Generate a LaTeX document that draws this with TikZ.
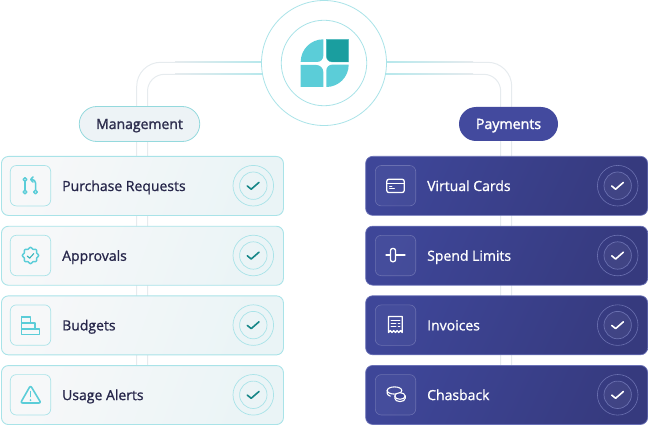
\documentclass[tikz,border=0pt]{standalone}
\usepackage{fontspec}
\setmainfont{Open Sans}[FakeBold=1]
\newfontfamily\pillfont{Open Sans}[FakeBold=1.8]
\usetikzlibrary{calc}
\definecolor{ink}{HTML}{26264A}
\definecolor{cyanl}{HTML}{5BCDD8}
\definecolor{teald}{HTML}{1A9E9F}
\definecolor{bordl}{HTML}{A9E3E8}
\definecolor{railg}{HTML}{E6EBEE}
\definecolor{railc}{HTML}{B5E8EC}
\definecolor{navya}{HTML}{3E4698}
\definecolor{navyb}{HTML}{363A7E}
\definecolor{navyl}{HTML}{7D84C4}
\definecolor{glass}{HTML}{6A70B0}
\definecolor{paya}{HTML}{434A9E}
\definecolor{liga}{HTML}{F7F8F9}
\definecolor{ligb}{HTML}{F5F7F8}
\definecolor{ligc}{HTML}{EAF4F6}
\definecolor{pillg}{HTML}{EDF3F6}
\tikzset{
  cardbase/.style={rectangle,rounded corners=7pt,minimum width=282pt,minimum height=59pt,inner sep=0pt,anchor=north west},
  lightcard/.style={cardbase,draw=bordl,line width=.9pt,left color=liga,middle color=ligb,right color=ligc,shading angle=70},
  darkcard/.style={cardbase,draw=navyl!70!navya,line width=.7pt,left color=navya,middle color=navya,right color=navyb,shading angle=65},
  iconboxl/.style={rectangle,rounded corners=6pt,minimum size=40.4pt,inner sep=0pt,draw=bordl,line width=.7pt},
  iconboxd/.style={rectangle,rounded corners=6pt,minimum size=40.4pt,inner sep=0pt,draw=glass,line width=.6pt,fill=white,fill opacity=.04},
  lbl/.style={anchor=base west,inner sep=0pt,font=\fontsize{14}{16}\selectfont},
  icl/.style={draw=cyanl,line width=1.5pt,line cap=round,line join=round},
  icd/.style={draw=white,line width=1.3pt,line cap=round,line join=round},
  rail/.style={draw=railg,line width=1pt},
  tickl/.style={draw=teald!85!black,line width=1.6pt,line cap=round,line join=round},
  tickd/.style={draw=white,line width=1.6pt,line cap=round,line join=round},
  pilltext/.style={inner sep=0pt,text height=10pt,text depth=0pt},
}
\newcommand{\lcard}[3]{% name, top y, text
  \node[lightcard] (#1) at (1,#2) {};
  \node[iconboxl] (#1i) at (30.5,#2+29.7) {};
  \node[lbl,text=ink] (#1t) at (62,#2+35) {#3};
  \node[circle,draw=bordl,line width=.7pt,minimum size=40.6pt,inner sep=0pt] (#1o) at (253.3,#2+29.7) {};
  \node[circle,draw=bordl,line width=.7pt,minimum size=27.4pt,inner sep=0pt] (#1c) at (253.3,#2+29.7) {};
  \draw[tickl] ($(#1c)+(-6,.3)$) -- ++(3.9,3.2) -- ++(7.8,-6.8);
}
\newcommand{\dcard}[3]{%
  \node[darkcard] (#1) at (365.3,#2) {};
  \node[iconboxd] (#1i) at (395.5,#2+29.7) {};
  \node[lbl,text=white] (#1t) at (427,#2+35) {#3};
  \node[circle,draw=glass,line width=.6pt,minimum size=40.6pt,inner sep=0pt] (#1o) at (617.7,#2+29.7) {};
  \node[circle,draw=glass,line width=.7pt,fill=white,fill opacity=.05,minimum size=27.4pt,inner sep=0pt] (#1c) at (617.7,#2+29.7) {};
  \draw[tickd] ($(#1c)+(-6,.3)$) -- ++(3.9,3.2) -- ++(7.8,-6.8);
}
\begin{document}
\begin{tikzpicture}[x=1pt,y=-1pt]
\useasboundingbox (0,0) rectangle (648,425);
% hub
\node[circle,minimum size=125pt,inner sep=0pt] (hub) at (324,63) {};
\coordinate (lo) at (136.7,365); \coordinate (li) at (147.5,365);
\coordinate (ro) at (511.7,365); \coordinate (ri) at (500.7,365);
% rails
\draw[rail,rounded corners=24pt] (lo) |- ($(hub.west)+(0,-.7)$);
\draw[rail,rounded corners=17pt] (li) |- ($(hub.west)+(3,11.3)$);
\draw[rail,rounded corners=24pt] (ro) |- ($(hub.east)+(0,-.7)$);
\draw[rail,rounded corners=17pt] (ri) |- ($(hub.east)+(-3,11.3)$);
% cyan tint near the hub
\shade[left color=railg,right color=railc] (175,61.8) rectangle (264,62.8);
\shade[left color=railg,right color=railc] (175,73.8) rectangle (266,74.8);
\shade[right color=railg,left color=railc] (384,61.8) rectangle (473,62.8);
\shade[right color=railg,left color=railc] (382,73.8) rectangle (473,74.8);
% hub rings
\node[circle,draw=bordl,line width=.8pt,fill=white,minimum size=125pt,inner sep=0pt] (ring) at (324,63) {};
\node[circle,draw=bordl,line width=.8pt,minimum size=85.5pt,inner sep=0pt] (ringb) at (324,63) {};
% logo
\fill[cyanl] (323.3,39.3) arc[start angle=270,end angle=180,radius=22.6] -- (317.3,61.9) arc[start angle=90,end angle=0,radius=6] -- cycle;
\fill[teald] (326.3,39.3) -- (348.7,39.3) -- (348.7,62) -- (332.3,62) arc[start angle=90,end angle=180,radius=6] -- cycle;
\draw[cyanl!60!teald,line width=.4pt] (326.3,39.3) -- (348.7,39.3) -- (348.7,62) -- (332.3,62) arc[start angle=90,end angle=180,radius=6] -- cycle;
\fill[cyanl] (300.7,65) -- (316.3,65) arc[start angle=270,end angle=360,radius=7] -- (323.3,87) -- (300.7,87) -- cycle;
\fill[cyanl] (326.3,87) arc[start angle=90,end angle=0,radius=22.4] -- (332.3,64.6) arc[start angle=270,end angle=180,radius=6] -- cycle;
% pills
\node[rectangle,rounded corners=17.5pt,draw=bordl!85!teald,line width=.8pt,fill=pillg,minimum width=120.5pt,minimum height=35pt,pilltext,font=\pillfont\fontsize{14}{16}\selectfont,text=ink!90!gray] (mgmt) at (139.5,124) {Management};
\node[rectangle,rounded corners=17pt,fill=paya,minimum width=99pt,minimum height=34pt,pilltext,font=\pillfont\fontsize{14.2}{16}\selectfont,text=white] (pay) at (508.5,124) {Payments};
% cards
\lcard{a}{156}{Purchase Requests}
\lcard{b}{225.8}{Approvals}
\lcard{c}{295.4}{Budgets}
\lcard{d}{365.1}{Usage Alerts}
\dcard{e}{156}{Virtual Cards}
\dcard{f}{225.8}{Spend Limits}
\dcard{g}{295.4}{Invoices}
\dcard{h}{365.1}{Chasback}
% icon: purchase requests
\draw[icl] (25,179.5) circle[radius=1.9] (25,192) circle[radius=1.9] (35.5,192) circle[radius=1.9];
\draw[icl] (25,181.5) -- (25,190);
\draw[icl] (35.5,190) -- (35.5,183) arc[start angle=0,end angle=-90,radius=3.5] -- (31,179.5);
\draw[icl] (33,177) -- (30.6,179.5) -- (33,182);
% icon: approvals
\draw[icl] plot[domain=0:360,samples=65,smooth] ({30.5+(7.4+.7*cos(8*\x))*cos(\x)},{255.5+(7.4+.7*cos(8*\x))*sin(\x)}) -- cycle;
\draw[draw=teald!50!cyanl,line width=1.1pt,line cap=round,line join=round] (27.2,256) -- (29.6,258.2) -- (33.8,253.6);
% icon: budgets
\draw[icl,line width=1.6pt,line cap=butt] (21.5,315.5) -- (21.5,334.5) -- (39.5,334.5) -- (39.5,329) -- (21.5,329) (21.5,323) -- (35,323) -- (35,329) (21.5,317) -- (30.5,317) -- (30.5,323);
% icon: alerts
\draw[icl,line width=1.6pt,rounded corners=2pt] (30.5,385.5) -- (41,403) -- (20.5,403) -- cycle;
\draw[icl] (30.5,391.5) -- (30.5,396.5);
\fill[cyanl] (30.5,400) circle[radius=1];
% icon: card
\draw[icd,rounded corners=2pt] (386.8,179.3) rectangle (404.2,192.5);
\draw[icd] (386.8,183.5) -- (404.2,183.5);
\draw[icd,line width=.9pt] (389.5,188.5) -- (394.5,188.5) (389.5,186.5) -- (392,186.5);
% icon: limits
\draw[icd] (386,255) -- (390.5,255) (395.5,255) -- (405,255);
\draw[icd,rounded corners=2pt] (390.5,248.5) rectangle (395.5,261.7);
% icon: invoice
\draw[icd,line join=round] (388.5,332.5) -- (388.5,316.5) -- (402.2,316.5) -- (402.2,332.5) -- (400.5,330.6) -- (398.8,332.5) -- (397.1,330.6) -- (395.4,332.5) -- (393.7,330.6) -- (392,332.5) -- (390.3,330.6) -- cycle;
\draw[icd,line width=.9pt] (391,320.5) -- (399.8,320.5) (391,323.2) -- (396,323.2) (398.2,323.2) -- (399.8,323.2) (391,326) -- (396,326) (398.2,326) -- (399.8,326);
% icon: coins
\draw[icd,line width=1.1pt] (394.5,390.5) ellipse[x radius=7.3,y radius=3.6];
\draw[icd,line width=1.1pt] (387.2,390.5) -- (387.2,393.2) arc[start angle=180,end angle=125,x radius=7.3,y radius=3.6];
\draw[icd,line width=1.1pt,fill=navya] (400,396) ellipse[x radius=5.2,y radius=3.3];
\draw[icd,line width=1.1pt] (394.8,396) -- (394.8,398.3) arc[start angle=180,end angle=0,x radius=5.2,y radius=3.3] -- (405.2,396);
\end{tikzpicture}
\end{document}
